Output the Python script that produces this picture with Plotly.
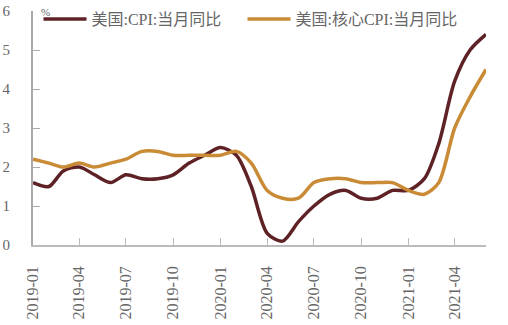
import plotly.graph_objects as go
import pandas as pd

months = pd.date_range("2019-01-01", "2021-06-01", freq="MS").strftime("%Y-%m-%d").tolist()
cpi = [1.6, 1.5, 1.9, 2.0, 1.8, 1.6, 1.8, 1.7, 1.7, 1.8, 2.1, 2.3,
       2.5, 2.3, 1.5, 0.3, 0.1, 0.6, 1.0, 1.3, 1.4, 1.2, 1.2, 1.4,
       1.4, 1.7, 2.6, 4.2, 5.0, 5.4]
core = [2.2, 2.1, 2.0, 2.1, 2.0, 2.1, 2.2, 2.4, 2.4, 2.3, 2.3, 2.3,
        2.3, 2.4, 2.1, 1.4, 1.2, 1.2, 1.6, 1.7, 1.7, 1.6, 1.6, 1.6,
        1.4, 1.3, 1.6, 3.0, 3.8, 4.5]
tickvals = ["2019-01-01", "2019-04-01", "2019-07-01", "2019-10-01", "2020-01-01",
            "2020-04-01", "2020-07-01", "2020-10-01", "2021-01-01", "2021-04-01"]
ticktext = ["2019-01", "2019-04", "2019-07", "2019-10", "2020-01",
            "2020-04", "2020-07", "2020-10", "2021-01", "2021-04"]
names = ["美国:CPI:当月同比", "美国:核心CPI:当月同比"]

font_family = "Liberation Serif, Noto Sans CJK SC"
grey = "#666666"

fig = go.Figure()
fig.add_trace(go.Scatter(x=months, y=cpi, name=names[0], mode="lines", legend="legend",
                         line=dict(color="#5E2226", width=3.5, shape="spline", smoothing=0.8)))
fig.add_trace(go.Scatter(x=months, y=core, name=names[1], mode="lines", legend="legend2",
                         line=dict(color="#C98B35", width=3.5, shape="spline", smoothing=0.8)))

leg_common = dict(orientation="h", yanchor="middle", xanchor="left",
                  yref="container", xref="container", y=1 - 19 / 325,
                  font=dict(size=16, color=grey), itemwidth=43,
                  bgcolor="rgba(0,0,0,0)")

fig.update_layout(
    width=508, height=325,
    margin=dict(l=33, r=22, t=11, b=80, autoexpand=False),
    plot_bgcolor="white", paper_bgcolor="white",
    font=dict(family=font_family, color=grey, size=14),
    showlegend=True,
    legend=dict(x=38.5 / 508, **leg_common),
    legend2=dict(x=242.5 / 508, **leg_common),
    xaxis=dict(range=["2019-01-01", "2021-06-01"], tickvals=tickvals, ticktext=ticktext,
               tickangle=-90, ticks="inside", ticklen=7, tickcolor="#BBBBBB",
               showline=True, linecolor="#BBBBBB", linewidth=1.5, showgrid=False,
               zeroline=False, tickfont=dict(size=16, color=grey), ticklabelstandoff=13,
               automargin=False),
    yaxis=dict(range=[0, 6], dtick=1, ticks="inside", ticklen=7, tickcolor="#AAAAAA",
               showline=True, linecolor="#AAAAAA", linewidth=2, showgrid=False,
               zeroline=False, tickfont=dict(size=15, color=grey), ticklabelstandoff=18,
               automargin=False),
    annotations=[dict(text="%", xref="paper", yref="paper", x=0.014, y=1.0,
                      xanchor="left", yanchor="bottom", showarrow=False,
                      font=dict(size=11, color=grey), yshift=-9)],
)

fig.write_html("out.html")
